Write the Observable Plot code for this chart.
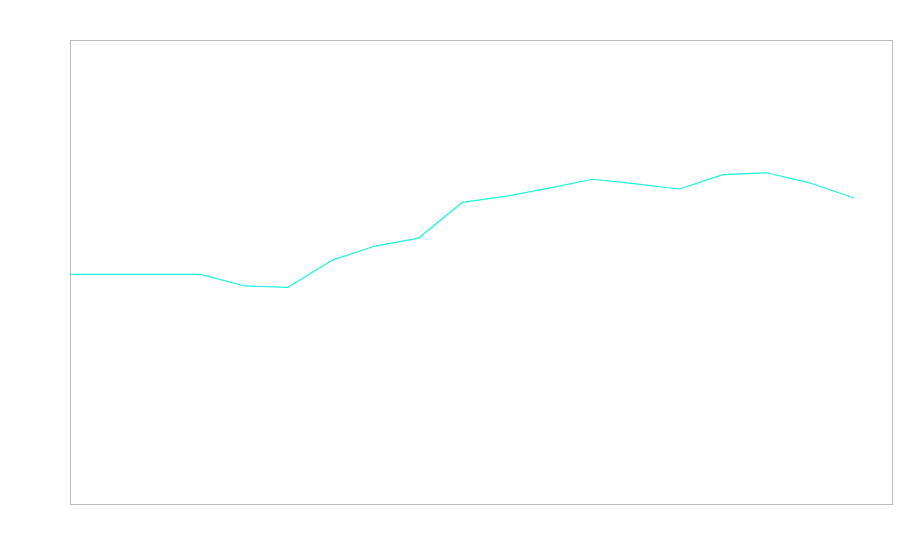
<!DOCTYPE html>
<html>
<head>
<meta charset="utf-8">
<script src="https://cdn.jsdelivr.net/npm/d3@7"></script>
<script src="https://cdn.jsdelivr.net/npm/@observablehq/plot@0.6"></script>
<style>
  html, body { margin: 0; padding: 0; background: #fff; }
  #chart { width: 900px; height: 560px; }
</style>
</head>
<body>
<div id="chart"></div>
<script>
const periods = d3.range(19);
const values = [49.6, 49.6, 49.6, 49.6, 47.1, 46.8, 52.6, 55.7, 57.4, 65.1, 66.4, 68.2, 70.1, 69.1, 68.0, 71.1, 71.5, 69.3, 66.1];

const data = periods.map((p, i) => ({ x: p, y: values[i] }));

const chart = Plot.plot({
  width: 900,
  height: 560,
  marginLeft: 70,
  marginRight: 8,
  marginTop: 40,
  marginBottom: 56,
  x: { domain: [0, 18.9], axis: null },
  y: { domain: [0, 100], axis: null },
  style: { background: "#fff" },
  marks: [
    Plot.frame({ stroke: "#bbbbbb", strokeWidth: 1 }),
    Plot.line(data, { x: "x", y: "y", stroke: "#19f5de", strokeWidth: 1.2 })
  ]
});
document.getElementById("chart").append(chart);
</script>
</body>
</html>
